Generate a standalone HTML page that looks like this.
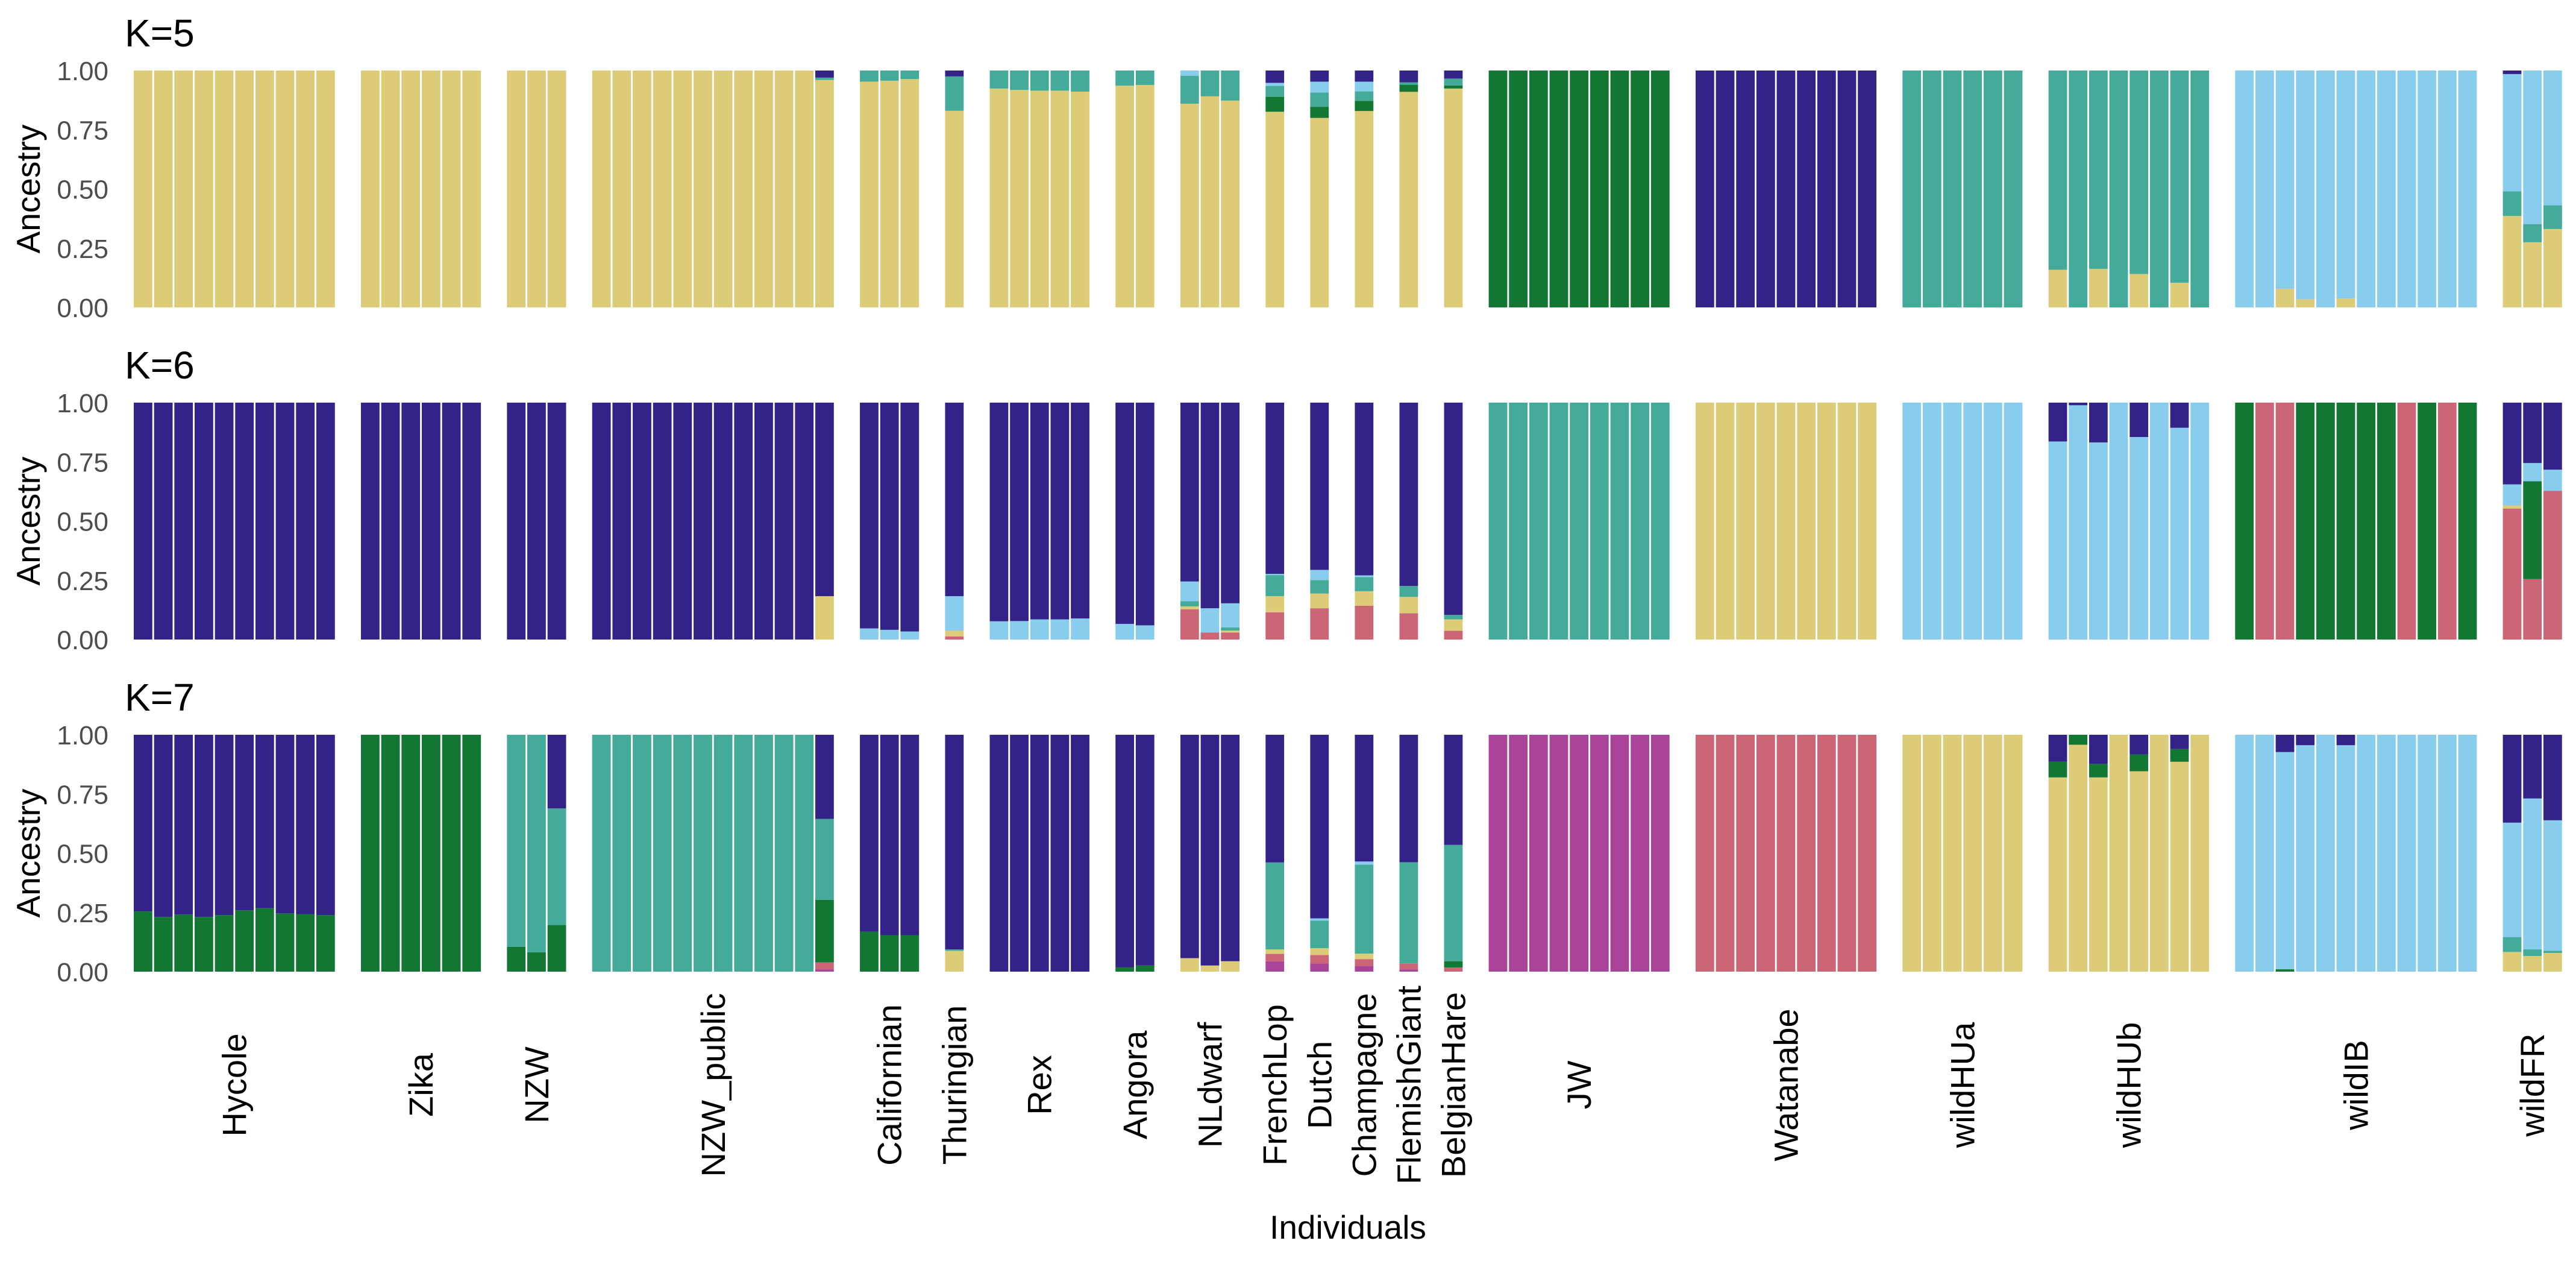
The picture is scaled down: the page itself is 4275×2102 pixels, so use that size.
<!DOCTYPE html>
<html><head><meta charset="utf-8"><style>
html,body{margin:0;padding:0;background:#fff;}
svg{display:block;font-family:"Liberation Sans",Arial,sans-serif;}
</style></head><body>
<svg id="chart" width="4275" height="2102" viewBox="0 0 4275 2102" xmlns="http://www.w3.org/2000/svg"></svg>
<script>
const groups = ["Hycole","Zika","NZW","NZW_public","Californian","Thuringian","Rex","Angora","NLdwarf","FrenchLop","Dutch","Champagne","FlemishGiant","BelgianHare","JW","Watanabe","wildHUa","wildHUb","wildIB","wildFR"];
const groupSizes = [10,6,3,12,3,1,5,2,3,1,1,1,1,1,9,9,6,8,12,3];
const yTicks = [0,0.25,0.5,0.75,1];
const yTickLabels = ["0.00","0.25","0.50","0.75","1.00"];
const panelTitles = ["K=5","K=6","K=7"];

// K=5 components (bottom -> top): yellow, green, teal, lightblue, darkblue
const k5Yellow = [1,1,1,1,1,1,1,1,1,1, 1,1,1,1,1,1, 1,1,1, 1,1,1,1,1,1,1,1,1,1,1,.96, .953,.957,.964, .83, .924,.918,.915,.915,.911, .936,.939, .86,.891,.873, .826, .80, .829, .91, .924, 0,0,0,0,0,0,0,0,0, 0,0,0,0,0,0,0,0,0, 0,0,0,0,0,0, .159,0,.163,0,.141,0,.104,0, 0,0,.079,.034,0,.038,0,0,0,0,0,0, .386,.275,.331];
const k5Green = [0,0,0,0,0,0,0,0,0,0, 0,0,0,0,0,0, 0,0,0, 0,0,0,0,0,0,0,0,0,0,0,0, 0,0,0, 0, 0,0,0,0,0, 0,0, 0,0,0, .063, .047, .043, .03, .013, 1,1,1,1,1,1,1,1,1, 0,0,0,0,0,0,0,0,0, 0,0,0,0,0,0, 0,0,0,0,0,0,0,0, 0,0,0,0,0,0,0,0,0,0,0,0, 0,0,0];
const k5Teal = [0,0,0,0,0,0,0,0,0,0, 0,0,0,0,0,0, 0,0,0, 0,0,0,0,0,0,0,0,0,0,0,.01, .047,.043,.036, .145, .076,.082,.085,.085,.089, .064,.061, .118,.109,.127, .046, .06, .04, .01, .029, 0,0,0,0,0,0,0,0,0, 0,0,0,0,0,0,0,0,0, 1,1,1,1,1,1, .841,1,.837,1,.859,1,.896,1, 0,0,0,0,0,0,0,0,0,0,0,0, .104,.077,.1];
const k5LightBlue = [0,0,0,0,0,0,0,0,0,0, 0,0,0,0,0,0, 0,0,0, 0,0,0,0,0,0,0,0,0,0,0,0, 0,0,0, 0, 0,0,0,0,0, 0,0, .022,0,0, .013, .046, .041, 0, 0, 0,0,0,0,0,0,0,0,0, 0,0,0,0,0,0,0,0,0, 0,0,0,0,0,0, 0,0,0,0,0,0,0,0, 1,1,.921,.966,1,.962,1,1,1,1,1,1, .495,.648,.569];
const k5Dark = [0,0,0,0,0,0,0,0,0,0, 0,0,0,0,0,0, 0,0,0, 0,0,0,0,0,0,0,0,0,0,0,.03, 0,0,0, .025, 0,0,0,0,0, 0,0, 0,0,0, .052, .047, .047, .05, .034, 0,0,0,0,0,0,0,0,0, 1,1,1,1,1,1,1,1,1, 0,0,0,0,0,0, 0,0,0,0,0,0,0,0, 0,0,0,0,0,0,0,0,0,0,0,0, .015,0,0];

// K=6 components (bottom -> top): rose, green, yellow, teal, lightblue, darkblue
const k6Rose = [0,0,0,0,0,0,0,0,0,0, 0,0,0,0,0,0, 0,0,0, 0,0,0,0,0,0,0,0,0,0,0,0, 0,0,0, .013, 0,0,0,0,0, 0,0, .128,.03,.03, .115, .132, .143, .111, .037, 0,0,0,0,0,0,0,0,0, 0,0,0,0,0,0,0,0,0, 0,0,0,0,0,0, 0,0,0,0,0,0,0,0, 0,1,1,0,0,0,0,0,1,0,1,0, .553,.255,.628];
const k6Green = [0,0,0,0,0,0,0,0,0,0, 0,0,0,0,0,0, 0,0,0, 0,0,0,0,0,0,0,0,0,0,0,0, 0,0,0, 0, 0,0,0,0,0, 0,0, 0,0,0, 0, 0, 0, 0, 0, 0,0,0,0,0,0,0,0,0, 0,0,0,0,0,0,0,0,0, 0,0,0,0,0,0, 0,0,0,0,0,0,0,0, 1,0,0,1,1,1,1,1,0,1,0,1, 0,.413,0];
const k6Yellow = [0,0,0,0,0,0,0,0,0,0, 0,0,0,0,0,0, 0,0,0, 0,0,0,0,0,0,0,0,0,0,0,.183, 0,0,0, .025, 0,0,0,0,0, 0,0, .012,0,.008, .068, .062, .061, .069, .048, 0,0,0,0,0,0,0,0,0, 1,1,1,1,1,1,1,1,1, 0,0,0,0,0,0, 0,0,0,0,0,0,0,0, 0,0,0,0,0,0,0,0,0,0,0,0, .013,0,0];
const k6Teal = [0,0,0,0,0,0,0,0,0,0, 0,0,0,0,0,0, 0,0,0, 0,0,0,0,0,0,0,0,0,0,0,0, 0,0,0, 0, 0,0,0,0,0, 0,0, .022,0,.013, .089, .057, .06, .046, .019, 1,1,1,1,1,1,1,1,1, 0,0,0,0,0,0,0,0,0, 0,0,0,0,0,0, 0,0,0,0,0,0,0,0, 0,0,0,0,0,0,0,0,0,0,0,0, 0,0,0];
const k6LightBlue = [0,0,0,0,0,0,0,0,0,0, 0,0,0,0,0,0, 0,0,0, 0,0,0,0,0,0,0,0,0,0,0,0, .047,.041,.034, .145, .077,.078,.085,.085,.089, .066,.06, .083,.102,.102, .005, .043, .007, 0, 0, 0,0,0,0,0,0,0,0,0, 0,0,0,0,0,0,0,0,0, 1,1,1,1,1,1, .836,.989,.832,1,.855,1,.894,1, 0,0,0,0,0,0,0,0,0,0,0,0, .089,.077,.089];
const k6Dark = [1,1,1,1,1,1,1,1,1,1, 1,1,1,1,1,1, 1,1,1, 1,1,1,1,1,1,1,1,1,1,1,.817, .953,.959,.966, .817, .923,.922,.915,.915,.911, .934,.94, .755,.868,.847, .723, .706, .729, .774, .896, 0,0,0,0,0,0,0,0,0, 0,0,0,0,0,0,0,0,0, 0,0,0,0,0,0, .164,.011,.168,0,.145,0,.106,0, 0,0,0,0,0,0,0,0,0,0,0,0, .345,.255,.283];

// K=7 components (bottom -> top): purple, rose, yellow, green, teal, lightblue, darkblue
const k7Purple = [0,0,0,0,0,0,0,0,0,0, 0,0,0,0,0,0, 0,0,0, 0,0,0,0,0,0,0,0,0,0,0,.009, 0,0,0, 0, 0,0,0,0,0, 0,0, 0,0,0, .044, .035, .024, .009, 0, 1,1,1,1,1,1,1,1,1, 0,0,0,0,0,0,0,0,0, 0,0,0,0,0,0, 0,0,0,0,0,0,0,0, 0,0,0,0,0,0,0,0,0,0,0,0, 0,0,0];
const k7Rose = [0,0,0,0,0,0,0,0,0,0, 0,0,0,0,0,0, 0,0,0, 0,0,0,0,0,0,0,0,0,0,0,.03, 0,0,0, 0, 0,0,0,0,0, 0,0, 0,0,0, .031, .035, .029, .026, .018, 0,0,0,0,0,0,0,0,0, 1,1,1,1,1,1,1,1,1, 0,0,0,0,0,0, 0,0,0,0,0,0,0,0, 0,0,0,0,0,0,0,0,0,0,0,0, 0,0,0];
const k7Yellow = [0,0,0,0,0,0,0,0,0,0, 0,0,0,0,0,0, 0,0,0, 0,0,0,0,0,0,0,0,0,0,0,0, 0,0,0, .088, 0,0,0,0,0, 0,0, .057,.026,.044, .019, .029, .023, 0, 0, 0,0,0,0,0,0,0,0,0, 0,0,0,0,0,0,0,0,0, 1,1,1,1,1,1, .82,.958,.82,1,.846,1,.886,1, 0,0,0,0,0,0,0,0,0,0,0,0, .083,.066,.079];
const k7Green = [.254,.231,.241,.231,.239,.259,.268,.246,.243,.239, 1,1,1,1,1,1, .105,.082,.197, 0,0,0,0,0,0,0,0,0,0,0,.264, .169,.154,.154, 0, 0,0,0,0,0, .018,.026, 0,0,0, 0, 0, 0, 0, .026, 0,0,0,0,0,0,0,0,0, 0,0,0,0,0,0,0,0,0, 0,0,0,0,0,0, .066,.042,.057,0,.071,0,.054,0, 0,0,.01,0,0,0,0,0,0,0,0,0, 0,0,0];
const k7Teal = [0,0,0,0,0,0,0,0,0,0, 0,0,0,0,0,0, .895,.918,.492, 1,1,1,1,1,1,1,1,1,1,1,.342, 0,0,0, .006, 0,0,0,0,0, 0,0, 0,0,0, .367, .116, .376, .427, .491, 0,0,0,0,0,0,0,0,0, 0,0,0,0,0,0,0,0,0, 0,0,0,0,0,0, 0,0,0,0,0,0,0,0, 0,0,0,0,0,0,0,0,0,0,0,0, .063,.028,.009];
const k7LightBlue = [0,0,0,0,0,0,0,0,0,0, 0,0,0,0,0,0, 0,0,0, 0,0,0,0,0,0,0,0,0,0,0,0, 0,0,0, 0, 0,0,0,0,0, 0,0, 0,0,0, 0, .01, .013, 0, 0, 0,0,0,0,0,0,0,0,0, 0,0,0,0,0,0,0,0,0, 0,0,0,0,0,0, 0,0,0,0,0,0,0,0, 1,1,.917,.956,1,.956,1,1,1,1,1,1, .483,.637,.551];
const k7Dark = [.746,.769,.759,.769,.761,.741,.732,.754,.757,.761, 0,0,0,0,0,0, 0,0,.311, 0,0,0,0,0,0,0,0,0,0,0,.355, .831,.846,.846, .906, 1,1,1,1,1, .982,.974, .943,.974,.956, .539, .775, .535, .538, .465, 0,0,0,0,0,0,0,0,0, 0,0,0,0,0,0,0,0,0, 0,0,0,0,0,0, .114,0,.123,0,.083,0,.06,0, 0,0,.073,.044,0,.044,0,0,0,0,0,0, .371,.269,.361];

const C = {yellow:"#DDCC77",green:"#117733",teal:"#44AA99",lightblue:"#88CCEE",dark:"#332288",rose:"#CC6677",purple:"#AA4499"};
const panels = [
  {title:panelTitles[0], top:117, series:[k5Yellow,k5Green,k5Teal,k5LightBlue,k5Dark], colors:[C.yellow,C.green,C.teal,C.lightblue,C.dark], names:["yellow","green","teal","lightblue","darkblue"]},
  {title:panelTitles[1], top:668, series:[k6Rose,k6Green,k6Yellow,k6Teal,k6LightBlue,k6Dark], colors:[C.rose,C.green,C.yellow,C.teal,C.lightblue,C.dark], names:["rose","green","yellow","teal","lightblue","darkblue"]},
  {title:panelTitles[2], top:1219, series:[k7Purple,k7Rose,k7Yellow,k7Green,k7Teal,k7LightBlue,k7Dark], colors:[C.purple,C.rose,C.yellow,C.green,C.teal,C.lightblue,C.dark], names:["purple","rose","yellow","green","teal","lightblue","darkblue"]}
];

const NS = "http://www.w3.org/2000/svg";
const svg = document.getElementById("chart");
const X0 = 222, PITCH = 33.66, GAP = 40.4, BARW = 30.8, PH = 393;
function mk(tag, attrs, parent){ const e=document.createElementNS(NS,tag); for(const k in attrs) e.setAttribute(k,attrs[k]); (parent||svg).appendChild(e); return e; }

// index -> group
const idxGroup = [];
groupSizes.forEach((n,gi)=>{ for(let j=0;j<n;j++) idxGroup.push(gi); });
function xOf(i){ return X0 + i*PITCH + idxGroup[i]*GAP; }
function yScale(top, v){ return top + PH - v*PH; }

panels.forEach((p,pi)=>{
  const g = mk("g",{});
  
  
  const t = mk("text",{x:207,y:p.top-40,"font-size":64,fill:"#000"},g);
  t.textContent = p.title;
  
  
  const yl = mk("text",{x:0,y:0,"font-size":55,fill:"#000","text-anchor":"middle",transform:`translate(66,${p.top+PH/2}) rotate(-90)`},g);
  yl.textContent = "Ancestry";
  
  
  yTicks.forEach((v,k)=>{
    const tl = mk("text",{x:180,y:yScale(p.top,v)+16,"font-size":44,fill:"#4d4d4d","text-anchor":"end"},g);
    tl.textContent = yTickLabels[k];
    
    
  });
  for(let i=0;i<idxGroup.length;i++){
    let cum = 0;
    const x = xOf(i);
    p.series.forEach((arr,si)=>{
      const v = arr[i];
      if(v>0){
        const y1 = yScale(p.top, cum+v), y0 = yScale(p.top, cum);
        const r = mk("rect",{x:x.toFixed(2),y:y1.toFixed(2),width:BARW,height:Math.max(0,(y0-y1)).toFixed(2),fill:p.colors[si]},g);
        
        
      }
      cum += v;
    });
  }
});

// group labels
let start = 0;
groups.forEach((name,gi)=>{
  const n = groupSizes[gi];
  const cx = (xOf(start) + xOf(start+n-1) + BARW)/2;
  const t = mk("text",{x:0,y:0,"font-size":56,fill:"#000","text-anchor":"middle","dominant-baseline":"central",transform:`translate(${cx.toFixed(1)},1800) rotate(-90)`});
  t.textContent = name;
  
  
  start += n;
});
const xl = mk("text",{x:2237,y:2055,"font-size":55,fill:"#000","text-anchor":"middle"});
xl.textContent = "Individuals";


</script>
</body></html>
